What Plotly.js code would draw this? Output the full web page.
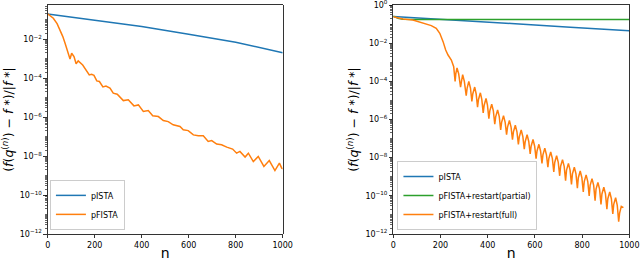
<!DOCTYPE html>
<html><head><meta charset="utf-8">
<script src="https://cdn.plot.ly/plotly-3.0.1.min.js"></script>
<style>html,body{margin:0;padding:0;background:#fff}#chart{width:640px;height:261px}</style>
</head><body><div id="chart"></div>
<script>
// ---- data (y values are log10 of the relative error) ----
var leftIstaN   = [0, 200, 400, 600, 800, 1000];
var leftIstaLog = [-0.70, -1.01, -1.35, -1.74, -2.15, -2.69];

var leftFistaN   = [0, 10, 24, 40, 52, 64, 74, 82, 88, 95, 102, 112, 121, 130, 149, 163, 177, 187, 197, 209, 220, 235, 248, 265, 279, 296, 322, 343, 367, 386, 407, 428, 447, 471, 492, 513, 534, 563, 577, 598, 620, 641, 662, 683, 698, 719, 740, 762, 787, 804, 818, 840, 854, 875, 896, 920, 943, 967, 986, 996, 1000];
var leftFistaLog = [-0.70, -0.78, -0.92, -1.2, -1.52, -1.85, -2.21, -2.5, -2.80, -3.01, -2.72, -2.89, -3.26, -3.11, -3.32, -3.57, -3.83, -3.8, -3.85, -4.14, -4.17, -4.45, -4.4, -4.51, -4.77, -4.82, -5.15, -5.11, -5.42, -5.37, -5.71, -5.66, -5.93, -5.97, -6.17, -6.23, -6.39, -6.48, -6.65, -6.69, -6.91, -6.96, -6.96, -7.25, -7.2, -7.38, -7.42, -7.54, -7.64, -7.85, -7.76, -8.05, -7.85, -8.28, -8.02, -8.53, -8.23, -8.74, -8.36, -8.62, -8.65];

var rightIstaN   = [0, 250, 500, 750, 1000];
var rightIstaLog = [-0.60, -0.80, -0.97, -1.16, -1.35];

var rightPartialN   = [0, 20, 40, 100, 1000];
var rightPartialLog = [-0.58, -0.70, -0.75, -0.76, -0.76];

var rightFullN = [0, 41, 83, 126, 161, 182, 197, 211, 222, 232, 246, 256,
  262, 265, 270, 277, 285, 289, 294, 301, 309, 313, 320, 327, 333, 337, 345, 351,
  357, 361, 369, 375, 381, 385, 393, 399, 405, 409, 417, 424, 430, 434, 442, 449,
  455, 459, 467, 474, 480, 484, 492, 499, 505, 509, 517, 524, 530, 534, 542, 549,
  555, 559, 567, 574, 580, 584, 592, 599, 605, 609, 617, 624, 630, 634, 642, 649,
  655, 659, 667, 674, 680, 684, 692, 699, 705, 709, 717, 724, 730, 734, 742, 749,
  755, 759, 767, 774, 780, 784, 792, 799, 805, 809, 817, 824, 830, 834, 842, 849,
  855, 859, 867, 874, 880, 884, 892, 899, 905, 909, 917, 924, 930, 934, 942, 949,
  955, 959, 966, 975];
var rightFullLog = [-0.61, -0.73, -0.79, -0.96, -1.08, -1.22, -1.48, -1.92, -2.36, -2.62, -2.88, -3.23,
  -4.0, -3.6, -3.3, -3.6, -4.3, -4.0, -3.65, -4.0, -4.75, -4.35, -4.0, -4.35, -5.05, -4.65, -4.3, -4.65,
  -5.35, -4.95, -4.6, -4.95, -5.65, -5.25, -4.9, -5.25, -5.95, -5.55, -5.2, -5.55, -6.25, -5.85, -5.5, -5.85,
  -6.55, -6.15, -5.8, -6.15, -6.8, -6.4, -6.05, -6.4, -7.05, -6.65, -6.3, -6.65, -7.3, -6.9, -6.55, -6.9,
  -7.55, -7.15, -6.8, -7.15, -7.8, -7.4, -7.05, -7.4, -8.05, -7.65, -7.3, -7.65, -8.3, -7.85, -7.5, -7.85,
  -8.5, -8.05, -7.7, -8.05, -8.75, -8.25, -7.9, -8.25, -8.95, -8.45, -8.1, -8.45, -9.2, -8.65, -8.3, -8.65,
  -9.4, -8.85, -8.5, -8.85, -9.6, -9.05, -8.7, -9.05, -9.8, -9.25, -8.9, -9.25, -10.0, -9.45, -9.1, -9.45,
  -10.25, -9.65, -9.3, -9.65, -10.45, -9.9, -9.55, -9.9, -10.7, -10.15, -9.8, -10.15, -10.95, -10.45, -10.1, -10.5,
  -11.35, -10.9, -10.55, -10.62];

var xTickVals = [0, 200, 400, 600, 800, 1000];
var leftDecades  = [-12, -10, -8, -6, -4, -2];
var rightDecades = [-12, -10, -8, -6, -4, -2, 0];
var yTitle = "(<i>f</i>(<i>q</i><sup>(<i>n</i>)</sup>) − <i>f</i> *)/|<i>f</i> *|";

// ---- helpers ----
function pow10(a){ return a.map(function(v){ return Math.pow(10, v); }); }
function decadeText(d){ return d.map(function(e){ return "10<sup>" + (e < 0 ? "−" + (-e) : e) + "</sup>"; }); }
function minorVals(lo, hi){
  var out = [];
  for (var e = lo; e < hi; e++) {
    for (var k = 1; k <= 9; k++) {
      if (k === 1 && e % 2 === 0) continue;
      out.push(k * Math.pow(10, e));
    }
  }
  return out;
}

var C_BLUE = "#1f77b4", C_ORANGE = "#ff7f0e", C_GREEN = "#2ca02c";
var FONT = "DejaVu Sans, sans-serif";

var traces = [
  {x: leftIstaN, y: pow10(leftIstaLog), name: "pISTA", mode: "lines", line: {color: C_BLUE, width: 1.5}, xaxis: "x", yaxis: "y", legend: "legend"},
  {x: leftFistaN, y: pow10(leftFistaLog), name: "pFISTA", mode: "lines", line: {color: C_ORANGE, width: 1.5}, xaxis: "x", yaxis: "y", legend: "legend"},
  {x: rightIstaN, y: pow10(rightIstaLog), name: "pISTA", mode: "lines", line: {color: C_BLUE, width: 1.5}, xaxis: "x2", yaxis: "y2", legend: "legend2"},
  {x: rightPartialN, y: pow10(rightPartialLog), name: "pFISTA+restart(partial)", mode: "lines", line: {color: C_GREEN, width: 1.5}, xaxis: "x2", yaxis: "y2", legend: "legend2"},
  {x: rightFullN, y: pow10(rightFullLog), name: "pFISTA+restart(full)", mode: "lines", line: {color: C_ORANGE, width: 1.5}, xaxis: "x2", yaxis: "y2", legend: "legend2"}
];

function xAxis(domain, anchor){
  return {domain: domain, anchor: anchor, range: [0, 1000], tickmode: "array", tickvals: xTickVals,
    ticks: "outside", ticklen: 3.5, tickwidth: 0.8, tickcolor: "#000", showgrid: false, zeroline: false,
    showline: true, linecolor: "#000", linewidth: 0.8, mirror: true, ticklabeloverflow: "allow",
    tickfont: {family: FONT, size: 8, color: "#000"},
    title: {text: "n", font: {family: FONT, size: 14, color: "#000"}, standoff: 3}};
}
function yAxis(range, decades, anchor){
  return {type: "log", range: range, anchor: anchor, domain: [0, 1], tickmode: "array",
    tickvals: pow10(decades), ticktext: decadeText(decades),
    ticks: "outside", ticklen: 3.5, tickwidth: 0.8, tickcolor: "#000", showgrid: false, zeroline: false,
    showline: true, linecolor: "#000", linewidth: 0.8, mirror: true, ticklabeloverflow: "allow",
    minor: {tickmode: "array", tickvals: minorVals(-12, 0), ticks: "outside", ticklen: 2, tickwidth: 0.6, tickcolor: "#000", showgrid: false},
    tickfont: {family: FONT, size: 8, color: "#000"},
    title: {text: yTitle, font: {family: FONT, size: 12.5, color: "#000"}, standoff: 3}};
}

var layout = {
  width: 640, height: 261,
  margin: {l: 0, r: 0, t: 5, b: 27},
  paper_bgcolor: "#fff", plot_bgcolor: "#fff",
  font: {family: FONT, color: "#000"},
  showlegend: true,
  xaxis: xAxis([0.0745, 0.4417], "y"),
  yaxis: yAxis([-12, -0.24], leftDecades, "x"),
  xaxis2: xAxis([0.6145, 0.9833], "y2"),
  yaxis2: yAxis([-12, 0.0005], rightDecades, "x2"),
  legend: {x: 0.078, y: 0.018, xanchor: "left", yanchor: "bottom", bgcolor: "rgba(255,255,255,0.8)",
    bordercolor: "#ccc", borderwidth: 1, font: {family: FONT, size: 8, color: "#000"},
    tracegroupgap: 0, itemwidth: 30},
  legend2: {x: 0.621, y: 0.018, xanchor: "left", yanchor: "bottom", bgcolor: "rgba(255,255,255,0.8)",
    bordercolor: "#ccc", borderwidth: 1, font: {family: FONT, size: 8, color: "#000"},
    tracegroupgap: 0, itemwidth: 30}
};

Plotly.newPlot("chart", traces, layout, {displayModeBar: false, staticPlot: true});
</script>
</body></html>
